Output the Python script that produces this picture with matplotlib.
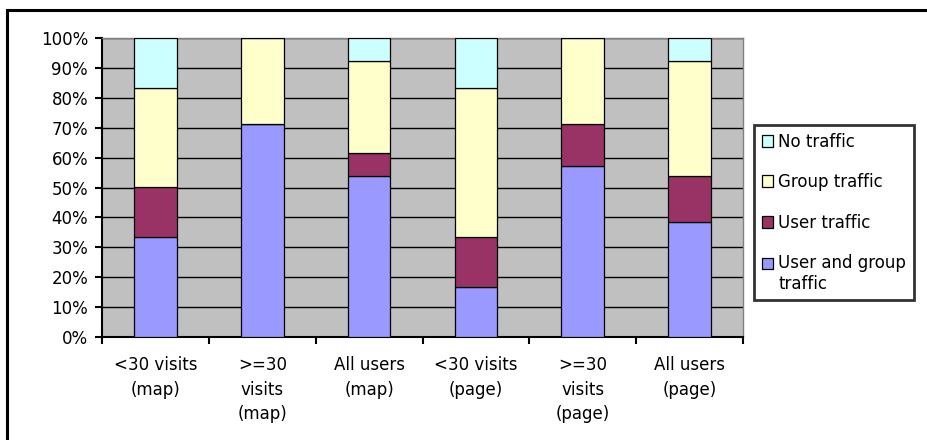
import numpy as np
import matplotlib.pyplot as plt
from matplotlib.patches import Rectangle

# categories and stacked shares (%)
categories = ['<30 visits\n(map)', '>=30\nvisits\n(map)', 'All users\n(map)',
              '<30 visits\n(page)', '>=30\nvisits\n(page)', 'All users\n(page)']
user_and_group = [33.3, 71.4, 53.8, 16.7, 57.1, 38.5]
user_only = [16.7, 0.0, 7.7, 16.7, 14.3, 15.4]
group_only = [33.3, 28.6, 30.8, 50.0, 28.6, 38.5]
no_traffic = [16.7, 0.0, 7.7, 16.7, 0.0, 7.7]

series = [
    ('User and group\ntraffic', user_and_group, '#9999FF'),
    ('User traffic', user_only, '#993366'),
    ('Group traffic', group_only, '#FFFFCC'),
    ('No traffic', no_traffic, '#CCFFFF'),
]

plt.rcParams['font.family'] = 'DejaVu Sans'

fig = plt.figure(figsize=(9.27, 4.4), dpi=100)
ax = fig.add_axes([102 / 927, 1 - 337 / 440, (743 - 102) / 927, (337 - 38) / 440])

x = np.arange(len(categories))
bottom = np.zeros(len(categories))
handles = []
for label, vals, color in series:
    vals = np.array(vals)
    b = ax.bar(x, vals, width=0.4, bottom=bottom, color=color,
               edgecolor='black', linewidth=0.9, label=label, zorder=3)
    handles.append(b)
    bottom += vals

ax.set_facecolor('#C0C0C0')
ax.set_xlim(-0.5, len(categories) - 0.5)
ax.set_ylim(0, 100)
ax.set_yticks(np.arange(0, 101, 10))
ax.set_yticklabels([f'{v}%' for v in range(0, 101, 10)], fontsize=12)
ax.yaxis.grid(True, color='black', linewidth=1.0, zorder=1)
ax.set_axisbelow(True)

ax.set_xticks(x)
ax.set_xticklabels(categories, fontsize=12, linespacing=1.45)
ax.tick_params(axis='x', length=0, pad=14)
ax.set_xticks(np.arange(-0.5, len(categories)), minor=True)
ax.tick_params(axis='x', which='minor', length=5, width=1.5, direction='out')
ax.tick_params(axis='y', length=5, width=1.5, direction='out', pad=5)

for s in ['left', 'bottom']:
    ax.spines[s].set_color('black')
    ax.spines[s].set_linewidth(1.5)
for s in ['top', 'right']:
    ax.spines[s].set_color('#808080')
    ax.spines[s].set_linewidth(1.0)

leg = fig.legend(handles[::-1], [s[0] for s in series][::-1],
                 loc='upper left', bbox_to_anchor=(754 / 927, 1 - 125 / 440),
                 fontsize=12, frameon=True, fancybox=False, edgecolor='black',
                 handlelength=0.7, handleheight=0.7, handletextpad=0.3,
                 labelspacing=1.35, borderpad=0.45, borderaxespad=0)
leg.get_frame().set_linewidth(2)
for t in leg.get_texts():
    t.set_linespacing(1.2)
# Excel puts the key box next to the first line of a wrapped label
last = leg.legend_handles[-1]
last.set_y(last.get_y() + 8)

# outer chart border
fig.patches.append(Rectangle((7 / 927, -0.2), 1.2, 1.2 - 10 / 440,
                             transform=fig.transFigure, fill=False,
                             edgecolor='black', linewidth=2.2))

fig.savefig('out.png', dpi=100)
